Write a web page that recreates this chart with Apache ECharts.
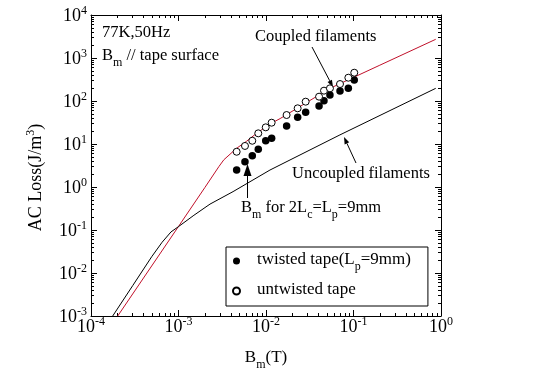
<!DOCTYPE html>
<html>
<head>
<meta charset="utf-8">
<script src="https://cdn.jsdelivr.net/npm/echarts@6/dist/echarts.min.js"></script>
<style>
  html, body { margin: 0; padding: 0; background: #fff; }
  #chart { width: 540px; height: 376px; }
</style>
</head>
<body>
<div id="chart"></div>
<script>
// measured points (B in T, loss in J/m3)
const fieldB = [0.00462, 0.00575, 0.00697, 0.00816, 0.00993, 0.0116, 0.0172, 0.0230, 0.0284, 0.0404, 0.0460, 0.0538, 0.0701, 0.0873, 0.102]
const lossTwisted = [2.48, 3.87, 5.35, 7.5, 11.9, 13.6, 26.2, 41.8, 54.6, 76.6, 102, 138, 171, 197, 308]
const lossUntwisted = [6.6, 9.0, 11.9, 17.7, 24.4, 31.3, 47.2, 67.6, 96.4, 126, 174, 197, 248, 348, 455]

// calculated curves
const coupledB = [2.02e-4, 1e-3, 2e-3, 2.9e-3, 3.3e-3, 4.6e-3, 6e-3, 7.8e-3, 0.0111, 0.0145, 0.0538, 0.2, 0.87]
const coupledLoss = [1e-3, 0.121, 0.97, 3.0, 4.3, 7.9, 11.6, 17.7, 29.2, 39, 197, 680, 2720]
const uncoupledB = [1.77e-4, 3e-4, 4.94e-4, 6.5e-4, 8.2e-4, 1e-3, 1.5e-3, 2.29e-3, 4.2e-3, 0.0111, 0.07, 0.87]
const uncoupledLoss = [1e-3, 5.1e-3, 0.0239, 0.052, 0.09, 0.12, 0.22, 0.40, 0.78, 2.48, 16.3, 197]

const xTicks = [1e-4, 1e-3, 1e-2, 1e-1, 1]
const yTicks = [1e-3, 1e-2, 1e-1, 1, 10, 100, 1000, 10000]

const serif = 'Liberation Serif'
const red = '#c0102a'

const pairs = (xs, ys) => xs.map((x, i) => [x, ys[i]])
const minorOf = ticks => {
  const out = []
  ticks.slice(0, -1).forEach(t => {
    for (let k = 2; k <= 9; k++) out.push(t * k)
  })
  return out
}

const supRich = {
  b: { fontFamily: serif, fontSize: 18, color: '#000', verticalAlign: 'bottom', lineHeight: 20, padding: [4, 0, 0, 0] },
  t: { fontFamily: serif, fontSize: 12, color: '#000', verticalAlign: 'top', lineHeight: 13 },
}
const subRich = {
  f: { fontFamily: serif, fontSize: 17, color: '#000', verticalAlign: 'top', lineHeight: 20, padding: [0, 0, 0, 12] },
  b: { fontFamily: serif, fontSize: 16.5, color: '#000', verticalAlign: 'top', lineHeight: 20 },
  s: { fontFamily: serif, fontSize: 12, color: '#000', verticalAlign: 'top', lineHeight: 12, padding: [10, 0, 0, 0] },
}
const legendRich = { ...subRich, b: { ...subRich.b, fontSize: 17 } }
const powLabel = v => '{b|10}{t|' + Math.round(Math.log10(v)) + '}'

const line = { lineStyle: { color: '#000', width: 1 } }

// one log axis; major ones carry labels, minor ones live on the twin grid
function logAxis(dim, pos, grid, ticks, major, label) {
  const ax = {
    type: 'log',
    gridIndex: grid,
    position: pos,
    min: ticks[0],
    max: ticks[ticks.length - 1],
    axisLine: { show: major, onZero: false, ...line },
    axisTick: { show: true, inside: true, length: major ? 6 : 3, customValues: major ? ticks : minorOf(ticks), ...line },
    axisLabel: { show: label, customValues: ticks, formatter: powLabel, rich: supRich, margin: dim === 'x' ? 0 : 4 },
    splitLine: { show: false },
    minorTick: { show: false },
  }
  return ax
}

const grid = { left: 91, top: 15, width: 350, height: 301 }

function arrow(x1, y1, x2, y2, len, half) {
  const a = Math.atan2(y2 - y1, x2 - x1)
  const bx = x2 - len * Math.cos(a)
  const by = y2 - len * Math.sin(a)
  const sx = half * Math.sin(a)
  const sy = half * Math.cos(a)
  return [
    { type: 'line', shape: { x1, y1, x2: bx, y2: by }, style: { stroke: '#000', lineWidth: 1 } },
    { type: 'polygon', shape: { points: [[x2, y2], [bx + sx, by - sy], [bx - sx, by + sy]] }, style: { fill: '#000' } },
  ]
}

function note(x, y, text) {
  return { type: 'text', x, y, style: { text, rich: subRich, fill: '#000', fontFamily: serif, fontSize: 16.5, verticalAlign: 'top' } }
}

const options = {
  animation: false,
  backgroundColor: '#fff',
  grid: [grid, grid],
  xAxis: [
    {
      ...logAxis('x', 'bottom', 0, xTicks, true, true),
      name: '{b|B}{s|m}{b|(T)}',
      nameLocation: 'middle',
      nameGap: 33,
      nameTextStyle: { rich: legendRich },
    },
    logAxis('x', 'top', 0, xTicks, true, false),
    logAxis('x', 'bottom', 1, xTicks, false, false),
    logAxis('x', 'top', 1, xTicks, false, false),
  ],
  yAxis: [
    {
      ...logAxis('y', 'left', 0, yTicks, true, true),
      name: '{b|AC Loss(J/m}{t|3}{b|)}',
      nameLocation: 'middle',
      nameRotate: 90,
      nameGap: 46,
      nameTextStyle: { rich: supRich, padding: [0, 24, 0, 0] },
    },
    logAxis('y', 'right', 0, yTicks, true, false),
    logAxis('y', 'left', 1, yTicks, false, false),
    logAxis('y', 'right', 1, yTicks, false, false),
  ],
  legend: {
    left: 226,
    top: 247,
    orient: 'vertical',
    itemWidth: 7,
    itemHeight: 7,
    itemGap: 8,
    padding: [4, 17, 8, 6],
    borderColor: '#000',
    borderWidth: 1,
    borderRadius: 0,
    backgroundColor: '#fff',
    data: ['twisted tape(Lp=9mm)', 'untwisted tape'],
    formatter: name => name === 'untwisted tape' ? '{f|untwisted tape}' : '{f|twisted tape(L}{s|p}{b|=9mm)}',
    textStyle: { fontFamily: serif, fontSize: 17, color: '#000', rich: legendRich },
  },
  series: [
    {
      name: 'coupled',
      type: 'line',
      data: pairs(coupledB, coupledLoss),
      symbol: 'none',
      lineStyle: { color: red, width: 1 },
      z: 2,
    },
    {
      name: 'uncoupled',
      type: 'line',
      data: pairs(uncoupledB, uncoupledLoss),
      symbol: 'none',
      lineStyle: { color: '#000', width: 1 },
      z: 2,
    },
    {
      name: 'twisted tape(Lp=9mm)',
      type: 'scatter',
      data: pairs(fieldB, lossTwisted),
      symbol: 'circle',
      symbolSize: 7.5,
      itemStyle: { color: '#000', opacity: 1 },
      z: 3,
    },
    {
      name: 'untwisted tape',
      type: 'scatter',
      data: pairs(fieldB, lossUntwisted),
      symbol: 'circle',
      symbolSize: 7,
      itemStyle: { color: '#fff', borderColor: '#000', borderWidth: 1, opacity: 1 },
      z: 3,
    },
  ],
  graphic: [
    note(102, 24, '{b|77K,50Hz}'),
    note(102, 47, '{b|B}{s|m}{b| // tape surface}'),
    note(255, 28, '{b|Coupled filaments}'),
    note(292, 165, '{b|Uncoupled filaments}'),
    note(241, 199, '{b|B}{s|m}{b| for 2L}{s|c}{b|=L}{s|p}{b|=9mm}'),
    ...arrow(312, 47, 333, 87, 7, 2.5),
    ...arrow(356, 163, 344, 137, 7, 2.5),
    ...arrow(247.5, 198, 247.5, 164, 12, 4),
  ],
}

const chart = echarts.init(document.getElementById('chart'))
chart.setOption(options)
</script>
</body>
</html>
